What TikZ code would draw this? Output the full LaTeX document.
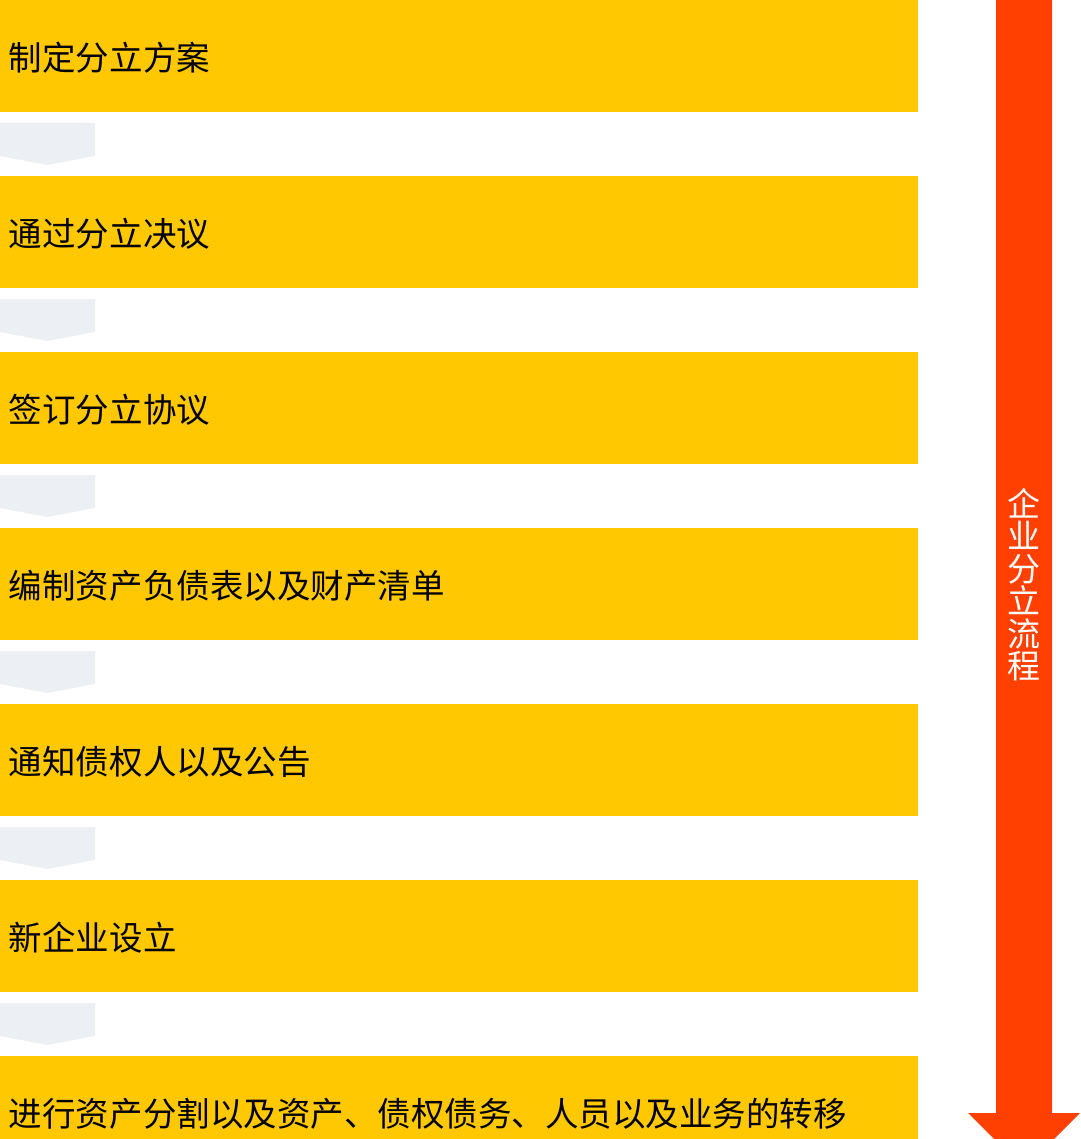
\documentclass[tikz,border=0pt]{standalone}
\usepackage{fontspec}
\setmainfont{Noto Sans CJK SC}
\usetikzlibrary{positioning}
\definecolor{stepcol}{HTML}{FFC800}
\definecolor{chevcol}{HTML}{ECF0F5}
\definecolor{arrowcol}{HTML}{FF4000}
\tikzset{
  stepbox/.style={fill=stepcol, anchor=north west, minimum height=112pt, text width=900pt,
    inner xsep=9pt, inner ysep=0pt, outer sep=0pt, align=left, text height=33pt, text depth=4pt,
    font=\fontsize{33.5}{38}\selectfont},
  chev/.style={fill=chevcol},
}
\begin{document}
\begin{tikzpicture}[x=1pt, y=1pt]
\useasboundingbox (0,0) rectangle (1080,-1139);
\clip (0,0) rectangle (1080,-1139);
% steps
\node[stepbox] (s1) at (0,0) {制定分立方案};
\node[stepbox, below=64pt of s1.south west, anchor=north west] (s2) {通过分立决议};
\node[stepbox, below=64pt of s2.south west, anchor=north west] (s3) {签订分立协议};
\node[stepbox, below=64pt of s3.south west, anchor=north west] (s4) {编制资产负债表以及财产清单};
\node[stepbox, below=64pt of s4.south west, anchor=north west] (s5) {通知债权人以及公告};
\node[stepbox, below=64pt of s5.south west, anchor=north west] (s6) {新企业设立};
\node[stepbox, below=64pt of s6.south west, anchor=north west] (s7) {进行资产分割以及资产、债权债务、人员以及业务的转移};
% chevrons between steps
\foreach \a in {1,...,6} {
  \fill[chev] ([yshift=-11pt]s\a.south west) -- ++(95,0) -- ++(0,-33) -- ++(-47.5,-9) -- ++(-47.5,9) -- cycle;
}
% big arrow
\fill[arrowcol] (996,0) -- (1052,0) -- (1052,-1113) -- (1080,-1113) -- (1024,-1169) -- (968,-1113) -- (996,-1113) -- cycle;
\node[text=white, align=center, font=\fontsize{33}{32.5}\selectfont] (title) at (1024,-585) {企\\业\\分\\立\\流\\程};
\end{tikzpicture}
\end{document}
